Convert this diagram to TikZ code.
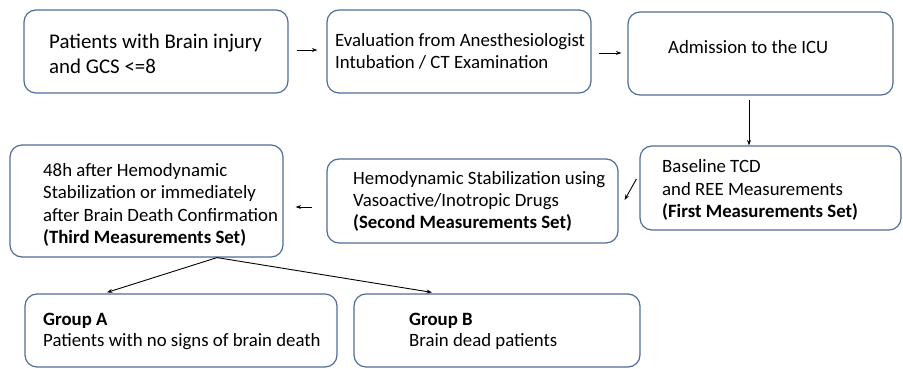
\documentclass[tikz,border=0pt]{standalone}
\usepackage{fontspec}
\setmainfont{Carlito}
\usetikzlibrary{arrows.meta}
\definecolor{boxline}{RGB}{80,108,150}
\begin{document}
\begin{tikzpicture}[x=1pt,y=-1pt,
  box/.style={draw=boxline, line width=1.2pt, rounded corners=12pt, inner sep=0pt},
  txt/.style={anchor=base west, inner sep=0pt, align=left, font=\fontsize{18.8}{22.2}\selectfont},
  arr/.style={-{Stealth[length=5.5pt,width=4pt]}, line width=0.9pt, black}]
\useasboundingbox (0,0) rectangle (903,369);
% boxes
\node[box, minimum width=264pt, minimum height=83pt] (b1) at (156,51.5) {};
\node[box, minimum width=264pt, minimum height=83pt] (b2) at (459,51.5) {};
\node[box, minimum width=265pt, minimum height=83pt] (b3) at (760.5,53.5) {};
\node[box, minimum width=261pt, minimum height=84pt] (b4) at (770.5,188) {};
\node[box, minimum width=291pt, minimum height=84pt] (b5) at (472.5,201) {};
\node[box, minimum width=273pt, minimum height=112pt] (b6) at (146.5,201) {};
\node[box, minimum width=312pt, minimum height=73pt] (bA) at (181,330.5) {};
\node[box, minimum width=286pt, minimum height=73pt] (bB) at (497,330.5) {};
% texts (anchor at baseline of last line)
\node[txt, font=\fontsize{20.9}{25}\selectfont] (t1) at (49,73.5) {Patients with Brain injury\\and GCS <=8};
\node[txt, font=\fontsize{18.8}{21.5}\selectfont] (t2) at (335,68.3) {Evaluation from Anesthesiologist\\Intubation / CT Examination};
\node[txt] (t3) at (668,54) {Admission to the ICU};
\node[txt, font=\fontsize{18.8}{22.3}\selectfont] (t4) at (662,217.3) {Baseline TCD\\and REE Measurements\\\textbf{(First Measurements Set)}};
\node[txt, font=\fontsize{18.8}{21.7}\selectfont] (t5) at (353,228.3) {Hemodynamic Stabilization using\\Vasoactive/Inotropic Drugs\\\textbf{(Second Measurements Set)}};
\node[txt] (t6) at (43,243.3) {48h after Hemodynamic\\Stabilization or immediately\\after Brain Death Confirmation\\\textbf{(Third Measurements Set)}};
\node[txt, font=\fontsize{18.8}{20.8}\selectfont] (tA) at (43,346.7) {\textbf{Group A}\\Patients with no signs of brain death};
\node[txt, font=\fontsize{18.8}{21}\selectfont] (tB) at (409,346.3) {\textbf{Group B}\\Brain dead patients};
% connectors
\draw[arr] ([shift={(8,-1.5)}]b1.east) -- ([shift={(-9,-1.5)}]b2.west);
\draw[arr] ([shift={(7,1.5)}]b2.east) -- ([shift={(-6,-0.5)}]b3.west);
\draw[arr] ([shift={(-11.5,4)}]b3.south) -- ([shift={(-21.5,0)}]b4.north);
\draw[arr] ([shift={(-3,-9)}]b4.west) -- ([shift={(6,-1)}]b5.east);
\draw[arr] ([shift={(-14,6)}]b5.west) -- ([shift={(12,6)}]b6.east);
\coordinate (split) at ([shift={(70.5,0)}]b6.south);
\draw[arr] (split) -- ([shift={(-74,-1)}]bA.north);
\draw[arr] (split) -- ([shift={(-65,-1)}]bB.north);
\end{tikzpicture}
\end{document}
